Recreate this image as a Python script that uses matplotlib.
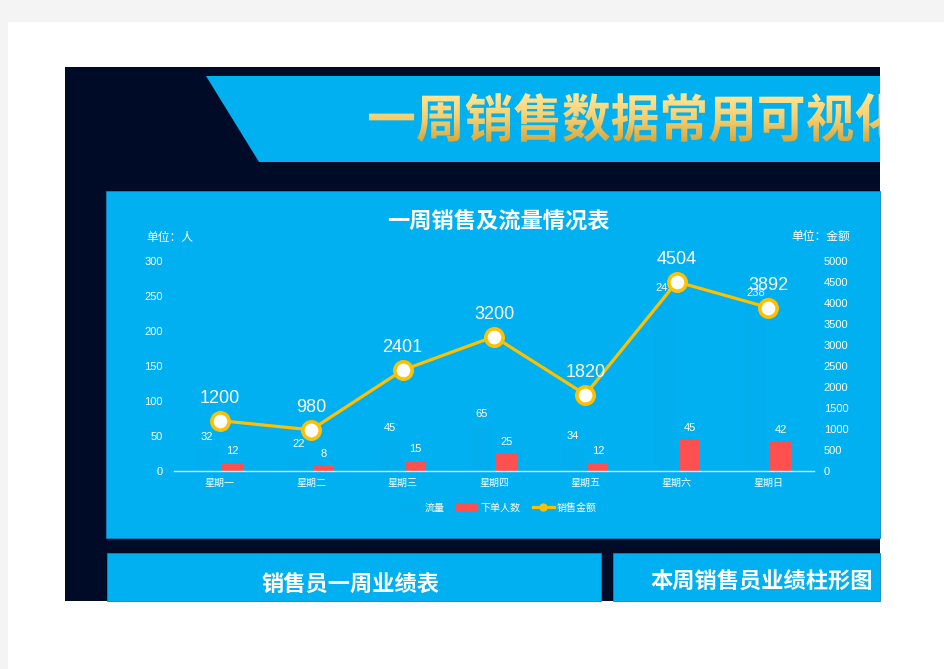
import numpy as np
import matplotlib
matplotlib.use('Agg')
import matplotlib.pyplot as plt
from matplotlib.patches import Rectangle, Polygon, PathPatch, Patch
from matplotlib.lines import Line2D
from matplotlib.textpath import TextPath
from matplotlib.font_manager import FontProperties
from matplotlib.transforms import Affine2D
from matplotlib.colors import LinearSegmentedColormap

plt.rcParams['font.family'] = ['Liberation Sans', 'Noto Sans CJK SC']

# data
days = ['星期一', '星期二', '星期三', '星期四', '星期五', '星期六', '星期日']
flow = [32, 22, 45, 65, 34, 245, 238]
orders = [12, 8, 15, 25, 12, 45, 42]
sales = [1200, 980, 2401, 3200, 1820, 4504, 3892]
left_ticks = [0, 50, 100, 150, 200, 250, 300]
right_ticks = [0, 500, 1000, 1500, 2000, 2500, 3000, 3500, 4000, 4500, 5000]

banner_title = '一周销售数据常用可视化图表'
chart_title = '一周销售及流量情况表'
panel_titles = ['销售员一周业绩表', '本周销售员业绩柱形图']

navy = '#000B27'
blue = '#00B0F0'
gold = '#FFC000'
red = '#FF5050'

W, H = 945, 669
fig = plt.figure(figsize=(W / 100, H / 100), dpi=100, facecolor='#F4F4F4')

# background drawing in pixel units
bg = fig.add_axes([0, 0, 1, 1])
bg.axis('off')
bg.add_patch(Rectangle((8, 22), W - 8, H - 22, facecolor='white', edgecolor='none'))
bg.add_patch(Rectangle((65, 67), 815, 534, facecolor=navy, edgecolor='none'))
bg.add_patch(Polygon([(205.7, 75.7), (880, 75.7), (880, 161.7), (259.3, 161.7)],
                     closed=True, facecolor=blue, edgecolor='none'))
bg.add_patch(Rectangle((106, 191), 774, 347, facecolor=blue, edgecolor='#1580C0', lw=0.6))
bg.add_patch(Rectangle((107, 553), 494, 48, facecolor=blue, edgecolor='#1580C0', lw=0.6))
bg.add_patch(Rectangle((613, 553), 267, 48, facecolor=blue, edgecolor='#1580C0', lw=0.6))

# gradient banner title
fp = FontProperties(family='Noto Sans CJK SC', weight='bold')
ref = TextPath((0, 0), banner_title[:10], size=100, prop=fp)
full = TextPath((0, 0), banner_title, size=100, prop=fp)
bb = ref.get_extents()
sx = (853 - 369) / bb.width
sy = (142 - 93) / bb.height
tr = Affine2D().translate(-bb.x0, -bb.y1).scale(sx, -sy).translate(369, 93)
tpath = tr.transform_path(full)
clip = PathPatch(tpath, transform=bg.transData, facecolor='none', edgecolor='none')
bg.add_patch(clip)
grad = np.linspace(0, 1, 100).reshape(-1, 1)
cmap = LinearSegmentedColormap.from_list('gold', ['#FFE89A', '#F5D072', '#D6A63A'])
im = bg.imshow(grad, extent=(360, 880, 143, 92), cmap=cmap, aspect='auto', zorder=5)
im.set_clip_path(clip)
bg.set_xlim(0, W)
bg.set_ylim(H, 0)

bg.text(498, 221, chart_title, color='white', fontsize=16, fontweight='bold',
        ha='center', va='center', family='Noto Sans CJK SC')
bg.text(351, 584, panel_titles[0], color='white', fontsize=16, fontweight='bold',
        ha='center', va='center', family='Noto Sans CJK SC')
bg.text(762, 581, panel_titles[1], color='white', fontsize=16, fontweight='bold',
        ha='center', va='center', family='Noto Sans CJK SC')
bg.text(146, 238, '单位：人', color='white', fontsize=8.5, ha='left', va='center',
        family='Noto Sans CJK SC')
bg.text(850, 236, '单位：金额', color='white', fontsize=8.5, ha='right', va='center',
        family='Noto Sans CJK SC')

# chart
ax = fig.add_axes([174 / W, 1 - 471 / H, 640 / W, 210 / H])
ax.patch.set_visible(False)
x = np.arange(len(days))
bw = 0.23
off = 0.137
b1 = ax.bar(x - off, flow, bw, color='#02AEEE', label='流量')
b2 = ax.bar(x + off, orders, bw, color=red, label='下单人数')
for xi, v in zip(x, flow):
    ax.annotate(str(v), (xi - off, v), xytext=(0, 8), textcoords='offset points',
                ha='center', va='center', color='white', fontsize=8)
for xi, v in zip(x, orders):
    ax.annotate(str(v), (xi + off, v), xytext=(0, 8), textcoords='offset points',
                ha='center', va='center', color='white', fontsize=8)
ax.set_xlim(-0.5, len(days) - 0.5)
ax.set_ylim(0, 300)
ax.set_yticks(left_ticks)
ax.set_xticks(x)
ax.set_xticklabels(days, family='Noto Sans CJK SC', fontsize=7.2)
for s in ['top', 'left', 'right']:
    ax.spines[s].set_visible(False)
ax.spines['bottom'].set_color('#CDEDFB')
ax.spines['bottom'].set_linewidth(1)
ax.tick_params(axis='y', length=0, pad=8, labelsize=8, labelcolor='white')
ax.tick_params(axis='x', length=0, pad=5, labelcolor='white')

ax2 = ax.twinx()
ax2.plot(x, sales, color=gold, lw=2.3, marker='o', ms=12.5, mfc='white', mec=gold, mew=2.6,
         zorder=3)
for xi, v in zip(x, sales):
    ax2.annotate(str(v), (xi, v), xytext=(0, 16), textcoords='offset points',
                 ha='center', va='center', color='white', fontsize=13)
ax2.set_ylim(0, 5000)
ax2.set_yticks(right_ticks)
for s in ['top', 'left', 'right', 'bottom']:
    ax2.spines[s].set_visible(False)
ax2.tick_params(axis='y', length=0, pad=7, labelsize=8, labelcolor='white')

handles = [Patch(color='#02AEEE'), Patch(color=red),
           Line2D([], [], color=gold, lw=2.3, marker='o', ms=5, mfc=gold, mec=gold)]
leg = fig.legend(handles, ['流量', '下单人数', '销售金额'], loc='center',
                 bbox_to_anchor=(498.5 / W, 1 - 507.5 / H), ncol=3, frameon=False,
                 handlelength=2.1, handleheight=0.5, handletextpad=0.3, columnspacing=1.2,
                 prop={'family': 'Noto Sans CJK SC', 'size': 7.2})
for t in leg.get_texts():
    t.set_color('white')

fig.savefig('out.png', dpi=100, facecolor=fig.get_facecolor())
